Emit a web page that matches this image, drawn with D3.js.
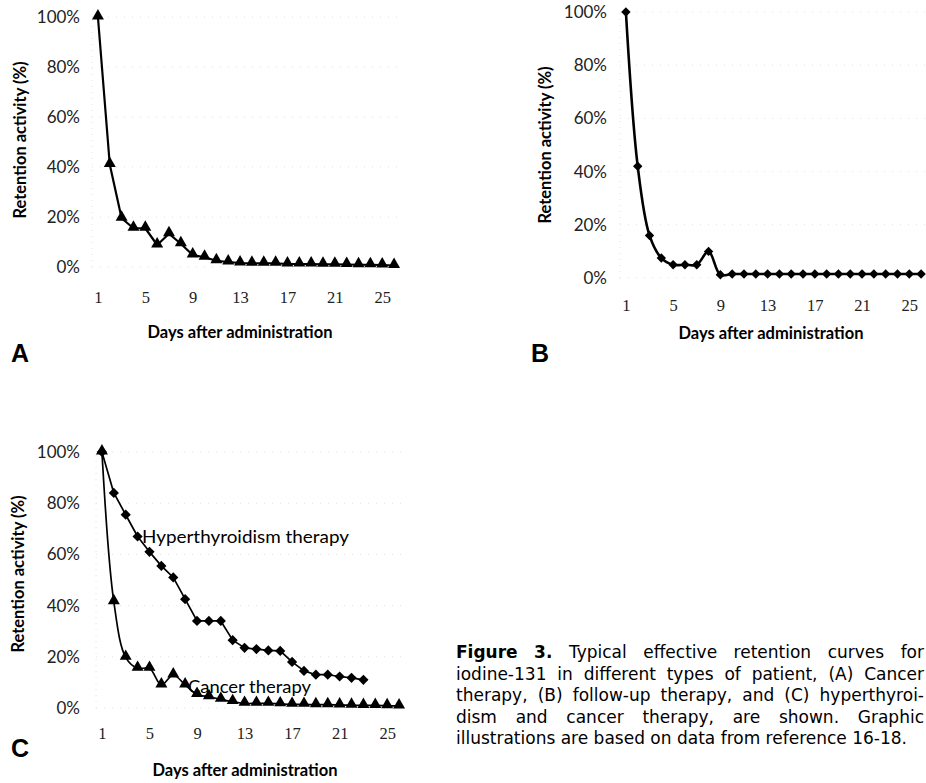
<!DOCTYPE html>
<html>
<head>
<meta charset="utf-8">
<script src="https://cdn.jsdelivr.net/npm/d3@7"></script>
<style>
  html, body { margin: 0; padding: 0; background: #fff; }
  svg { display: block; }
</style>
</head>
<body>
<svg id="chart" width="926" height="783"></svg>
<script>
// ---------------- DATA ----------------
const days = [1,2,3,4,5,6,7,8,9,10,11,12,13,14,15,16,17,18,19,20,21,22,23,24,25,26];
const xTickLabels = [1,5,9,13,17,21,25];
const yTickValues = [0, 20, 40, 60, 80, 100];

// Panel A: cancer therapy (%)
const cancerA = [100, 41, 19.5, 15.5, 15.5, 8.8, 13.3, 9.3, 4.8, 3.9, 2.5, 2.0, 1.6, 1.5, 1.5, 1.5, 1.2, 1.2, 1.2, 1.1, 1.1, 1.0, 0.9, 0.9, 0.8, 0.6];
// Panel B: follow-up therapy (%)
const followUpB = [100, 42, 16, 7.5, 5, 5, 5, 10, 1.2, 1.5, 1.5, 1.5, 1.5, 1.5, 1.5, 1.5, 1.5, 1.5, 1.5, 1.5, 1.5, 1.5, 1.5, 1.5, 1.5, 1.5];
// Panel C: hyperthyroidism therapy (%), days 1-23
const hyperC = [100, 84, 75.5, 67, 61, 55.5, 51, 42.5, 34, 34, 34, 26.5, 23.5, 23, 22.5, 22.3, 18, 14.5, 13, 13, 12.3, 11.8, 11];
// Panel C: cancer therapy (%)
const cancerC = [100, 41.5, 19.8, 15.5, 15.5, 9, 12.9, 9, 5.3, 4.4, 3.4, 2.5, 1.8, 1.8, 1.8, 1.6, 1.4, 1.4, 1.3, 1.3, 1.2, 1.1, 1.0, 1.0, 0.9, 0.8];

const seriesLabels = ["Hyperthyroidism therapy", "Cancer therapy"];
const yTitle = "Retention activity (%)";
const xTitle = "Days after administration";
const panelLetters = ["A", "B", "C"];
const captionBold = "Figure 3.";
const captionLines = [
  "Typical effective retention curves for",
  "iodine-131 in different types of patient, (A) Cancer",
  "therapy, (B) follow-up therapy, and (C) hyperthyroi-",
  "dism and cancer therapy, are shown. Graphic",
  "illustrations are based on data from reference 16-18."
];

// ---------------- DRAWING ----------------
const svg = d3.select("#chart");
const tickFont = "Lato, 'Open Sans', sans-serif";
const xTickFont = "'Liberation Serif', 'DejaVu Serif', serif";
const capFont = "'DejaVu Sans', 'Noto Sans', sans-serif";

function triangle(g, pts) {
  g.selectAll("path.tri").data(pts).join("path")
    .attr("class", "tri")
    .attr("d", d3.symbol().type(d3.symbolTriangle).size(62))
    .attr("transform", d => `translate(${d[0]},${d[1] - 1})`)
    .attr("fill", "#000");
}
function diamond(g, pts, size) {
  g.selectAll("path.dia").data(pts).join("path")
    .attr("class", "dia")
    .attr("d", d3.symbol().type(d3.symbolSquare).size(size))
    .attr("transform", d => `translate(${d[0]},${d[1]}) rotate(45)`)
    .attr("fill", "#000");
}

function panel(opt) {
  const g = svg.append("g");
  const x = d3.scalePoint().domain(days).range([opt.left, opt.right]).padding(0.5);
  const y = d3.scaleLinear().domain([0, 100]).range([opt.bottom, opt.top]);

  // faint gridlines
  g.append("g").selectAll("line").data(yTickValues).join("line")
    .attr("x1", opt.left).attr("x2", opt.right)
    .attr("y1", d => y(d)).attr("y2", d => y(d))
    .attr("stroke", "#e2e2e2").attr("stroke-width", 1)
    .attr("stroke-dasharray", "1,7");
  g.append("line")
    .attr("x1", opt.left).attr("x2", opt.left)
    .attr("y1", y(0)).attr("y2", y(100))
    .attr("stroke", "#e2e2e2").attr("stroke-dasharray", "1,5");

  // y axis labels
  const yAxis = d3.axisLeft(y).tickValues(yTickValues).tickFormat(d => d + "%").tickSize(0).tickPadding(0);
  const ya = g.append("g").attr("transform", `translate(${opt.yLabelRight},0)`).call(yAxis);
  ya.select(".domain").remove();
  ya.selectAll("text").attr("font-family", tickFont).attr("font-size", 17).attr("fill", "#222");

  // x axis labels
  const xAxis = d3.axisBottom(x).tickValues(xTickLabels).tickSize(0).tickPadding(0);
  const xa = g.append("g").attr("transform", `translate(0,${opt.xLabelY})`).call(xAxis);
  xa.select(".domain").remove();
  xa.selectAll("text").attr("font-family", xTickFont).attr("font-size", 16.5).attr("fill", "#222").attr("dy", "0.35em");

  // titles
  g.append("text")
    .attr("transform", `translate(${opt.yTitleX},${opt.yTitleY}) rotate(-90)`)
    .attr("text-anchor", "middle").attr("dy", "0.35em")
    .attr("font-family", tickFont).attr("font-weight", "bold").attr("font-size", 16.5)
    .text(yTitle);
  g.append("text")
    .attr("x", opt.xTitleX).attr("y", opt.xTitleY)
    .attr("text-anchor", "middle").attr("dy", "0.35em")
    .attr("font-family", tickFont).attr("font-weight", "bold").attr("font-size", 16.5)
    .text(xTitle);

  // letter
  g.append("text").attr("x", opt.letterX).attr("y", opt.letterY)
    .attr("font-family", "'Liberation Sans', Arial, sans-serif").attr("font-weight", "bold")
    .attr("font-size", 25).text(opt.letter);

  // series
  opt.series.forEach(s => {
    const pts = s.values.map((v, i) => [x(days[i]), y(v)]);
    const line = d3.line().curve(s.smooth ? d3.curveCatmullRom.alpha(0.5) : d3.curveLinear);
    g.append("path").attr("d", line(pts)).attr("fill", "none")
      .attr("stroke", "#000").attr("stroke-width", s.width).attr("stroke-linejoin", "round");
    const mg = g.append("g");
    if (s.marker === "tri") triangle(mg, pts); else diamond(mg, pts, s.msize);
  });
  return { g, x, y };
}

panel({
  left: 92, right: 400, top: 17, bottom: 267,
  yLabelRight: 80, xLabelY: 297, yTitleX: 20, yTitleY: 140, xTitleX: 240, xTitleY: 332,
  letter: panelLetters[0], letterX: 11, letterY: 362,
  series: [{ values: cancerA, marker: "tri", width: 2.2, smooth: false }]
});

panel({
  left: 620, right: 927, top: 12, bottom: 278,
  yLabelRight: 607, xLabelY: 305, yTitleX: 545, yTitleY: 145, xTitleX: 771, xTitleY: 333,
  letter: panelLetters[1], letterX: 531, letterY: 362,
  series: [{ values: followUpB, marker: "dia", msize: 44, width: 2.6, smooth: true }]
});

panel({
  left: 96, right: 405, top: 452, bottom: 708,
  yLabelRight: 80, xLabelY: 733, yTitleX: 18, yTitleY: 574, xTitleX: 245, xTitleY: 770,
  letter: panelLetters[2], letterX: 11, letterY: 757,
  series: [
    { values: hyperC, marker: "dia", msize: 52, width: 1.7, smooth: false },
    { values: cancerC, marker: "tri", width: 1.7, smooth: true }
  ]
});

// series labels in panel C
svg.append("text").attr("x", 142).attr("y", 537).attr("dy", "0.35em")
  .attr("font-family", tickFont).attr("font-size", 17)
  .attr("textLength", 207).attr("lengthAdjust", "spacingAndGlyphs")
  .text(seriesLabels[0]);
svg.append("text").attr("x", 188).attr("y", 687).attr("dy", "0.35em")
  .attr("font-family", tickFont).attr("font-size", 17)
  .attr("textLength", 123).attr("lengthAdjust", "spacingAndGlyphs")
  .text(seriesLabels[1]);

// caption: justified by word spacing
const capX = 456, capEnd = 924, capY0 = 652, capDy = 21.6;
const measureEl = svg.append("text").attr("font-family", capFont).attr("font-size", 16);
function measure(str, bold) {
  measureEl.attr("font-weight", bold ? "bold" : "normal").text(str);
  return measureEl.node().getComputedTextLength();
}
// choose font size so the last (unjustified) line fits the column
const lastW16 = measure(captionLines[4], false);
const capSize = Math.min(17, 16 * (capEnd - capX) / lastW16);
measureEl.attr("font-size", capSize);
const spaceW = measure("a a", false) - measure("aa", false);

captionLines.forEach((ln, i) => {
  let words = ln.split(" ").map(w => ({ w, bold: false }));
  if (i === 0) words = captionBold.split(" ").map(w => ({ w, bold: true })).concat(words);
  words.forEach(o => o.width = measure(o.w, o.bold));
  const sum = d3.sum(words, o => o.width);
  const justify = i < captionLines.length - 1;
  const gap = justify ? (capEnd - capX - sum) / (words.length - 1) : spaceW;
  let cx = capX;
  words.forEach(o => {
    svg.append("text").attr("x", cx).attr("y", capY0 + i * capDy).attr("dy", "0.35em")
      .attr("font-family", capFont).attr("font-size", capSize)
      .attr("font-weight", o.bold ? "bold" : "normal").attr("fill", "#000")
      .text(o.w);
    cx += o.width + gap;
  });
});
measureEl.remove();
</script>
</body>
</html>
